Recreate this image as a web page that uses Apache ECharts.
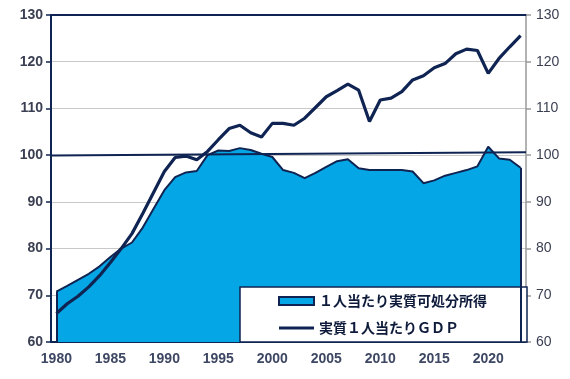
<!DOCTYPE html>
<html><head><meta charset="utf-8">
<script src="https://cdn.jsdelivr.net/npm/echarts@6/dist/echarts.min.js"></script>
<style>html,body{margin:0;padding:0;background:#fff}#c{width:570px;height:379px}</style>
</head><body><div id="c"></div>
<script>
const years = [];
for (let y = 1980; y <= 2023; y++) years.push(String(y));
const incomeName = '１人当たり実質可処分所得';
const gdpName = '実質１人当たりＧＤＰ';
const income = [70.8,72.0,73.3,74.6,76.2,78.2,80.0,81.3,84.5,88.5,
  92.5,95.3,96.3,96.6,100.0,101.0,100.9,101.5,101.1,100.3,
  99.6,96.8,96.2,95.1,96.2,97.5,98.7,99.1,97.2,96.8,
  96.8,96.8,96.8,96.5,94.0,94.6,95.6,96.2,96.8,97.6,
  101.8,99.3,99.0,97.3];
const gdp = [66.1,68.2,69.8,71.8,74.2,77.0,80.0,83.2,87.5,92.0,
  96.5,99.5,99.8,99.0,100.8,103.3,105.7,106.4,104.8,103.9,
  106.8,106.8,106.4,107.9,110.2,112.5,113.8,115.2,113.9,107.2,
  111.8,112.2,113.6,116.1,117.0,118.7,119.6,121.7,122.7,122.4,
  117.5,120.7,123.2,125.6];
const baseLine = [[0, 99.9], [1, 100.6]];
const yMin = 60, yMax = 130, yStep = 10;

const navy = '#0f2452';
const blue = '#05a6e6';
const chart = echarts.init(document.getElementById('c'), null, {renderer: 'canvas'});
const lastIdx = years.length - 1;
chart.setOption({
  animation: false,
  backgroundColor: '#fff',
  grid: {left: 51, right: 44, top: 15, bottom: 37},
  legend: {
    left: 240, top: 287, orient: 'vertical',
    backgroundColor: '#fff', borderColor: navy, borderWidth: 1.5, borderRadius: 0,
    padding: [6, 40, 6, 38], itemGap: 11, itemWidth: 35, itemHeight: 8,
    textStyle: {fontFamily: 'Noto Sans CJK JP', fontWeight: 'bold', fontSize: 14, color: '#0d1a3a', lineHeight: 16},
    data: [
      {name: incomeName, icon: 'rect', itemStyle: {color: blue, borderColor: navy, borderWidth: 2}},
      {name: gdpName, icon: 'path://M0,0H0.01V0.01H0Z M0,2.6H35V5.4H0Z M0,7.99H0.01V8H0Z',
        itemStyle: {color: navy, borderWidth: 0}, lineStyle: {width: 0}}
    ]
  },
  xAxis: [{
    type: 'category', data: years, boundaryGap: true,
    axisLine: {lineStyle: {color: navy, width: 2}},
    axisTick: {interval: 0, length: 5, lineStyle: {color: navy, width: 1.5}},
    axisLabel: {interval: function (i, v) { return Number(v) % 5 === 0; }, margin: 10,
      fontFamily: 'Liberation Sans', fontWeight: 'bold', fontSize: 14, color: '#3d4763'},
    splitLine: {show: false}
  }, {
    type: 'value', min: 0, max: 1, position: 'top', show: true,
    axisLine: {show: true, onZero: false, lineStyle: {color: navy, width: 2}},
    axisTick: {show: false}, axisLabel: {show: false}, splitLine: {show: false}
  }],
  yAxis: [{
    type: 'value', min: yMin, max: yMax, interval: yStep, position: 'left',
    axisLine: {show: true, lineStyle: {color: navy, width: 2}},
    axisTick: {show: true, length: 5, lineStyle: {color: navy, width: 1.5}},
    axisLabel: {margin: 8, fontFamily: 'Liberation Sans', fontWeight: 'bold', fontSize: 14, color: '#3a3f52'},
    splitLine: {show: true, lineStyle: {color: '#c8c8c8', width: 1}}
  }, {
    type: 'value', min: yMin, max: yMax, interval: yStep, position: 'right',
    axisLine: {show: true, lineStyle: {color: '#9a9a9a', width: 1.5}},
    axisTick: {show: true, length: 5, lineStyle: {color: '#9a9a9a', width: 1.5}},
    axisLabel: {margin: 10, fontFamily: 'Liberation Sans', fontSize: 14, color: '#3a3f52'},
    splitLine: {show: false}
  }],
  series: [{
    name: incomeName, type: 'line', data: income, symbol: 'none', z: 2,
    lineStyle: {color: navy, width: 2}, itemStyle: {color: blue},
    areaStyle: {color: blue, opacity: 1, origin: 'start'},
    markLine: {
      silent: true, symbol: 'none', label: {show: false},
      lineStyle: {color: navy, width: 2, type: 'solid'},
      data: [
        [{coord: [years[0], yMin]}, {coord: [years[0], income[0]]}],
        [{coord: [years[lastIdx], yMin]}, {coord: [years[lastIdx], income[lastIdx]]}]
      ]
    }
  }, {
    name: 'base', type: 'line', xAxisIndex: 1, data: baseLine, symbol: 'none', z: 3,
    lineStyle: {color: navy, width: 2}
  }, {
    name: gdpName, type: 'line', data: gdp, symbol: 'none', z: 4,
    lineStyle: {color: navy, width: 3.2}, itemStyle: {color: navy}
  }]
});
</script></body></html>
